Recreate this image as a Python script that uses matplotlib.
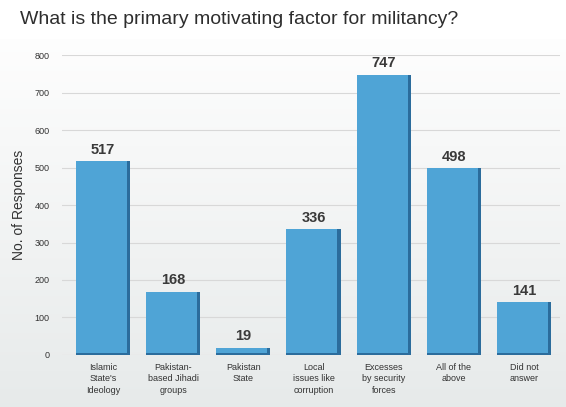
import numpy as np
from matplotlib import pyplot as plt

categories = ["Islamic\nState's\nIdeology", "Pakistan-\nbased Jihadi\ngroups", "Pakistan\nState",
              "Local\nissues like\ncorruption", "Excesses\nby security\nforces", "All of the\nabove",
              "Did not\nanswer"]
responses = [517, 168, 19, 336, 747, 498, 141]
yticks = [0, 100, 200, 300, 400, 500, 600, 700, 800]

plt.rcParams['font.family'] = ['Liberation Sans', 'DejaVu Sans']

fig = plt.figure(figsize=(5.66, 4.07), dpi=100)

# grey gradient panel behind the chart
bg = fig.add_axes([0, 0, 1, 0.905], zorder=-1)
grad = np.linspace(1.0, 0.0, 256).reshape(-1, 1)
top_c = np.array([0.995, 0.995, 0.995])
bot_c = np.array([0.905, 0.918, 0.918])
img = bot_c + (top_c - bot_c) * grad[..., None]
bg.imshow(img, aspect='auto', extent=[0, 1, 0, 1])
bg.axis('off')

fig.text(0.035, 0.953, "What is the primary motivating factor for militancy?",
         fontsize=14, color='#2e2e2e', va='center')

ax = fig.add_axes([0.1095, 0.1278, 0.880, 0.737])
ax.patch.set_alpha(0)
x = np.arange(len(categories))
w = 0.77
edge = 0.045
ax.bar(x, responses, width=w, color='#4fa4d6', zorder=3)
# darker right side and base for a bevelled look
ax.bar(x + w / 2 - edge / 2, responses, width=edge, color='#2b6c9c', zorder=4)
ax.bar(x, [min(v, 6) for v in responses], width=w, color='#2b6c9c', zorder=4)

for xi, v in zip(x, responses):
    ax.text(xi, v + 12, str(v), ha='center', va='bottom', fontsize=10.5,
            fontweight='bold', color='#3a3a3a')

ax.set_ylim(0, 800)
ax.set_xlim(-0.584, 6.513)
ax.set_yticks(yticks)
ax.set_yticklabels([str(t) for t in yticks], fontsize=6.5, color='#333333')
ax.set_xticks(x)
ax.set_xticklabels(categories, fontsize=6.5, color='#333333', linespacing=1.3)
ax.tick_params(axis='both', length=0)
ax.tick_params(axis='y', pad=9)
ax.tick_params(axis='x', pad=6)
ax.grid(axis='y', color='#d8d8d8', linewidth=0.8, zorder=0)
for s in ax.spines.values():
    s.set_visible(False)
ax.set_ylabel("No. of Responses", fontsize=10, color='#333333', labelpad=6)

fig.savefig('out.png', dpi=100)
